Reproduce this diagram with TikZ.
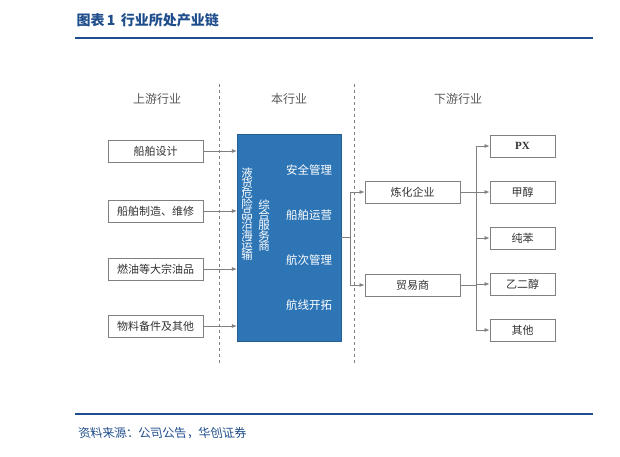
\documentclass[tikz,border=0pt]{standalone}
\usepackage{fontspec}
\setmainfont{Liberation Serif}
\newfontfamily\cjk{Noto Sans CJK SC}
\usetikzlibrary{arrows.meta}
\definecolor{hblue}{HTML}{1F4E8C}
\definecolor{cblue}{HTML}{2E75B6}
\definecolor{lgray}{HTML}{808080}
\begin{document}
\begin{tikzpicture}[x=1pt,y=-1pt,
  box/.style={draw=lgray,line width=0.9pt,fill=white,minimum height=22pt,inner sep=0pt,font=\cjk\fontsize{11}{11}\selectfont,text=black!80},
  lbox/.style={box,minimum width=95pt},
  rbox/.style={box,minimum width=65pt},
  conn/.style={draw=lgray,line width=0.7pt},
  arr/.style={conn,-{Latex[length=5pt,width=4pt]}},
  hdr/.style={font=\cjk\fontsize{12}{12}\selectfont,text=black!65},
  wt/.style={font=\cjk\fontsize{11.5}{11.5}\selectfont,text=white}]
\useasboundingbox (0,0) rectangle (620,456);
% title
\node[anchor=west,font=\cjk\bfseries\fontsize{14}{14}\selectfont,text=hblue] (title) at (73,20) {图表\,\textbf{1}\, 行业所处产业链};
\draw[hblue,line width=1.6pt] (75,38) -- (593,38);
\draw[hblue,line width=1.6pt] (75,414) -- (593,414);
\node[anchor=west,font=\cjk\fontsize{12}{12}\selectfont,text=hblue,xslant=-0.2] (src) at (75,433) {资料来源：公司公告，华创证券};
% headers
\node[hdr] (h1) at (157,99) {上游行业};
\node[hdr] (h2) at (289,99) {本行业};
\node[hdr] (h3) at (458,99) {下游行业};
\draw[lgray,dashed,line width=0.7pt] (219,84) -- (219,363);
\draw[lgray,dashed,line width=0.7pt] (354,84) -- (354,363);
% center box
\node[fill=cblue,draw=cblue!80!black,minimum width=104pt,minimum height=207pt,inner sep=0pt] (core) at (289,237.5) {};
\node[wt,align=center,anchor=north] (c1) at (247,164) {液\\[-1.2pt]货\\[-1.2pt]危\\[-1.2pt]险\\[-1.2pt]品\\[-1.2pt]沿\\[-1.2pt]海\\[-1.2pt]运\\[-1.2pt]输};
\node[wt,align=center,anchor=north] (c2) at (264,196) {综\\[-1.2pt]合\\[-1.2pt]服\\[-1.2pt]务\\[-1.2pt]商};
\node[wt] (s1) at (309,170) {安全管理};
\node[wt] (s2) at (309,215) {船舶运营};
\node[wt] (s3) at (309,260) {航次管理};
\node[wt] (s4) at (309,305) {航线开拓};
% left
\node[lbox] (u1) at (155.5,151) {船舶设计};
\node[lbox] (u2) at (155.5,211) {船舶制造、维修};
\node[lbox] (u3) at (155.5,269) {燃油等大宗油品};
\node[lbox] (u4) at (155.5,326) {物料备件及其他};
\foreach \u in {u1,u2,u3,u4} \draw[arr] (\u.east) -- (\u.east -| core.west);
% middle
\node[lbox] (m1) at (412.5,192) {炼化企业};
\node[lbox] (m2) at (412.5,285) {贸易商};
\coordinate (b1) at (350,237);
\draw[conn] (core.east |- b1) -- (b1);
\draw[arr] (b1) |- (m1.west);
\draw[arr] (b1) |- (m2.west);
% right
\node[rbox] (r1) at (522.5,146) {\fontspec{Liberation Serif}\bfseries PX};
\node[rbox] (r2) at (522.5,192) {甲醇};
\node[rbox] (r3) at (522.5,238) {纯苯};
\node[rbox] (r4) at (522.5,284) {乙二醇};
\node[rbox] (r5) at (522.5,330) {其他};
\coordinate (bus) at (476,192);
\draw[conn] (m1.east) -- (bus);
\draw[conn] (m2.east) -- (bus |- m2.east);
\draw[conn] (bus |- r1) -- (bus |- r5);
\foreach \r in {r1,r2,r3,r4,r5} \draw[arr] (bus |- \r.west) -- (\r.west);
\end{tikzpicture}
\end{document}
